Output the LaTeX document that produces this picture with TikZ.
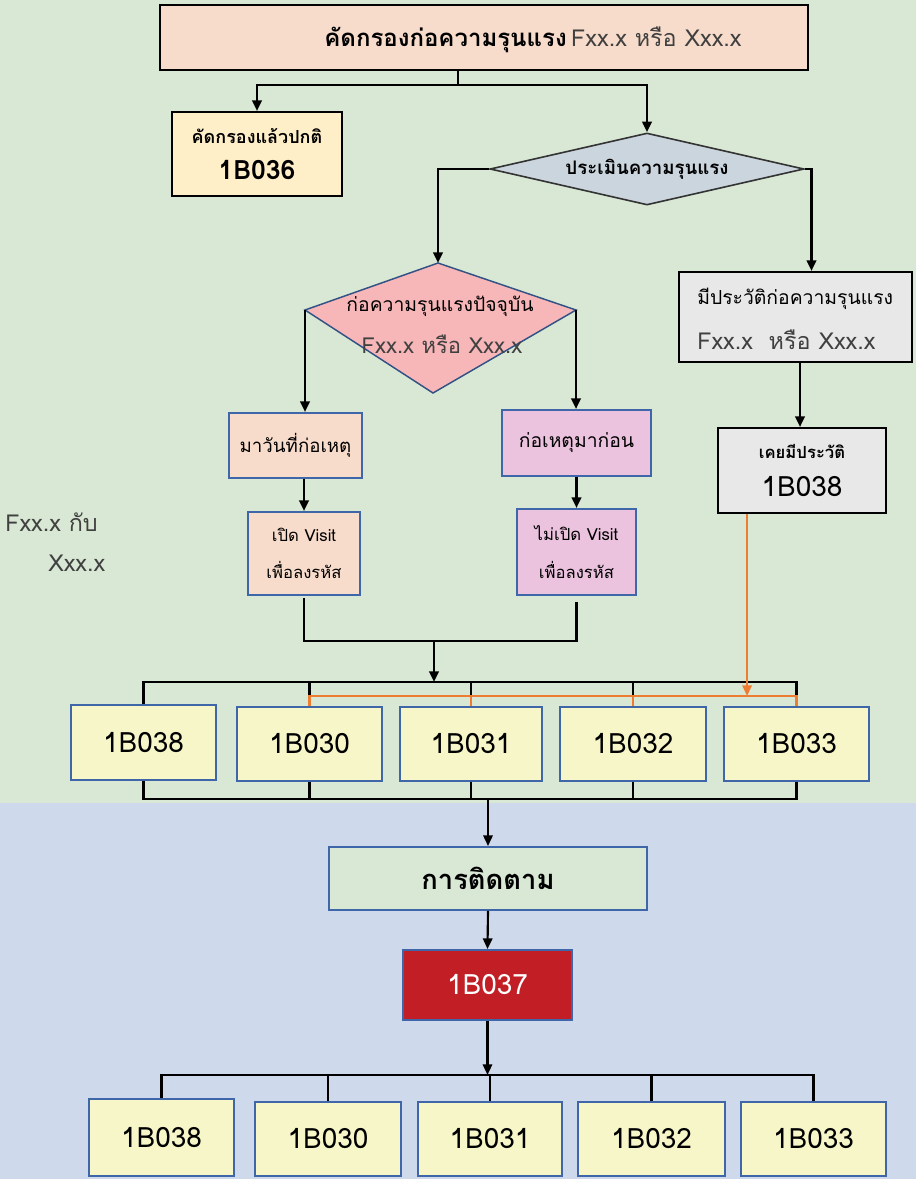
\documentclass[tikz,border=0pt]{standalone}
\usepackage{fontspec}
\setmainfont[Script=Thai]{Loma}
\usetikzlibrary{arrows.meta,shapes.geometric,calc}
\definecolor{bggreen}{HTML}{D9E8D4}
\definecolor{bgblue}{HTML}{CEDAEC}
\definecolor{peach}{HTML}{F8DCCB}
\definecolor{cream}{HTML}{FFEFC9}
\definecolor{slate}{HTML}{CBD5DE}
\definecolor{lgray}{HTML}{E7E8E7}
\definecolor{pinkd}{HTML}{F7B6B8}
\definecolor{mauve}{HTML}{EBC3DE}
\definecolor{lyellow}{HTML}{F7F6C8}
\definecolor{lgreen}{HTML}{D9E8D5}
\definecolor{dred}{HTML}{C11F25}
\definecolor{bord}{HTML}{3E66A8}
\definecolor{orng}{HTML}{ED7D31}
\definecolor{txtgray}{HTML}{404040}
\def\u{0.75pt}
\tikzset{
  bbox/.style={draw=black, line width=1.4pt, inner sep=0pt, align=center},
  ubox/.style={draw=bord, line width=1.4pt, inner sep=0pt, align=center},
  conn/.style={line width=2.1pt, black},
  arr/.style={conn, -{Triangle[length=8pt,width=7pt]}},
  thin/.style={line width=1.6pt, black},
  tarr/.style={thin, -{Triangle[length=8pt,width=7pt]}},
  oline/.style={line width=1.6pt, orng},
  oarr/.style={oline, -{Triangle[length=8pt,width=7pt]}},
  code/.style={font=\fontsize{21}{24}\selectfont},
}
\begin{document}
\begin{tikzpicture}[x=0.75pt,y=-0.75pt]
\useasboundingbox (0,0) rectangle (916,1179);
\fill[bggreen] (0,0) rectangle (916,803);
\fill[bgblue] (0,803) rectangle (916,1179);

% top
\node[bbox, fill=peach, minimum width=648*\u, minimum height=65*\u] (top) at (484,37.5) {};
\node (toptext) at (533,40) {{\bfseries\fontsize{18}{21}\selectfont คัดกรองก่อความรุนแรง} {\color{txtgray}\fontsize{17.5}{20}\selectfont Fxx.x หรือ Xxx.x}};

\node[bbox, fill=cream, minimum width=170*\u, minimum height=84*\u] (norm) at (257,154)
 {{\bfseries\fontsize{13.5}{16}\selectfont คัดกรองแล้วปกติ}\\[11pt]{\bfseries\fontsize{20}{24}\selectfont 1B036}};

\node[diamond, aspect=4.36, draw=black!80, line width=1.2pt, fill=slate, inner sep=0pt,
  minimum width=314*\u, minimum height=72*\u] (diag) at (647,169)
  {\bfseries\fontsize{14}{16}\selectfont ประเมินความรุนแรง};

% pink diamond
\coordinate (pdT) at (438,263);
\coordinate (pdR) at (576,310);
\coordinate (pdB) at (433,393);
\coordinate (pdL) at (305,310);
\draw[fill=pinkd, draw=bord!80!black, line width=1.1pt] (pdT) -- (pdR) -- (pdB) -- (pdL) -- cycle;
\node[font=\fontsize{14.5}{17}\selectfont] (pdt1) at (440,306) {ก่อความรุนแรงปัจจุบัน};
\node[font=\fontsize{16.5}{19}\selectfont, text=txtgray] (pdt2) at (442,344) {Fxx.x หรือ Xxx.x};

\node[bbox, fill=lgray, minimum width=233*\u, minimum height=90*\u] (hist) at (795.5,317) {};
\node[anchor=west, font=\fontsize{14.5}{17}\selectfont, inner sep=0pt] (histt1) at (697,299) {มีประวัติก่อความรุนแรง};
\node[anchor=west, font=\fontsize{17.5}{20}\selectfont, text=txtgray, inner sep=0pt] (histt2) at (697,340) {Fxx.x\ \ หรือ Xxx.x};

\node[bbox, fill=lgray, minimum width=168*\u, minimum height=85*\u] (hist2) at (802,470.5)
 {{\bfseries\fontsize{12.5}{14}\selectfont เคยมีประวัติ}\\[12pt]{\fontsize{21}{24}\selectfont 1B038}};

\node[ubox, fill=peach, minimum width=133*\u, minimum height=65*\u] (day) at (295.5,445.5)
 {\fontsize{14}{17}\selectfont มาวันที่ก่อเหตุ};
\node[ubox, fill=mauve, minimum width=149*\u, minimum height=66*\u] (before) at (576.5,443)
 {\fontsize{14.5}{17}\selectfont ก่อเหตุมาก่อน};

\node[ubox, fill=peach, minimum width=112*\u, minimum height=83*\u] (open) at (304,553.5)
 {{\fontsize{12.5}{15}\selectfont เปิด Visit}\\[14pt]{\fontsize{12.5}{15}\selectfont เพื่อลงรหัส}};
\node[ubox, fill=mauve, minimum width=119*\u, minimum height=86*\u] (noopen) at (576.5,552)
 {{\fontsize{12.5}{15}\selectfont ไม่เปิด Visit}\\[14pt]{\fontsize{12.5}{15}\selectfont เพื่อลงรหัส}};

\node[text=txtgray, font=\fontsize{17.5}{20}\selectfont, anchor=west, inner sep=0pt] (side1) at (5,522) {Fxx.x กับ};
\node[text=txtgray, font=\fontsize{17.5}{20}\selectfont, anchor=west, inner sep=0pt] (side2) at (48,563) {Xxx.x};

% row 1
\node[ubox, fill=lyellow, minimum width=145*\u, minimum height=75*\u, code] (r1) at (143.5,742.5) {1B038};
\node[ubox, fill=lyellow, minimum width=145*\u, minimum height=74*\u, code] (r2) at (309.5,744) {1B030};
\node[ubox, fill=lyellow, minimum width=142*\u, minimum height=74*\u, code] (r3) at (471,744) {1B031};
\node[ubox, fill=lyellow, minimum width=146*\u, minimum height=74*\u, code] (r4) at (633,744) {1B032};
\node[ubox, fill=lyellow, minimum width=145*\u, minimum height=74*\u, code] (r5) at (796.5,744) {1B033};

\node[ubox, fill=lgreen, minimum width=318*\u, minimum height=63*\u] (follow) at (488,878.5)
 {\bfseries\fontsize{20.5}{23}\selectfont การติดตาม};
\node[ubox, fill=dred, minimum width=169*\u, minimum height=70*\u, text=white, code] (red) at (487.5,985) {1B037};

% row 2
\node[ubox, fill=lyellow, minimum width=145*\u, minimum height=77*\u, code] (b1) at (161.5,1137.5) {1B038};
\node[ubox, fill=lyellow, minimum width=146*\u, minimum height=74*\u, code] (b2) at (328,1139) {1B030};
\node[ubox, fill=lyellow, minimum width=144*\u, minimum height=74*\u, code] (b3) at (490,1139) {1B031};
\node[ubox, fill=lyellow, minimum width=147*\u, minimum height=74*\u, code] (b4) at (651.5,1139) {1B032};
\node[ubox, fill=lyellow, minimum width=145*\u, minimum height=74*\u, code] (b5) at (813.5,1139) {1B033};

% connectors top
\draw[conn] ([xshift=-26*\u]top.south) -- ++(0,14) coordinate (tj);
\draw[arr] (tj) -| (norm.north);
\draw[arr] (tj) -| (diag.north);
\draw[arr] (diag.west) -| (pdT);
\draw[arr] (diag.east) -| ([xshift=16*\u]hist.north);
\draw[arr] (hist.south -| hist2.north) ++(-2,0) -- ([xshift=-2*\u]hist2.north);
\draw[arr] (pdL) -- (pdL |- day.north);
\draw[arr] (pdR) -- (pdR |- before.north);
\draw[arr] (day.south -| open.north) -- (open.north);
\draw[arr] (before.south -| noopen.north) -- (noopen.north);

% join
\coordinate (join) at (434,641);
\coordinate (bus1) at (434,682);
\coordinate (ob) at (434,696);
\coordinate (bus2) at (434,799);
\draw[conn] ([yshift=-2*\u]open.south) |- (noopen.south |- join) -- ([yshift=-6*\u]noopen.south);
\draw[arr] (join) -- (bus1);
\draw[conn] (r1.north) -- (r1.north |- bus1) -- (r5.north |- bus1) -- (r5.north);
\foreach \n in {r2,r3,r4} \draw[conn] (\n.north |- bus1) -- (\n.north);
% orange
\draw[oline] (r2.north) -- (r2.north |- ob) -- (r5.north |- ob) -- (r5.north);
\foreach \n in {r3,r4} \draw[oline] (\n.north |- ob) -- (\n.north);
\draw[oarr] ([xshift=30*\u]hist2.south west) -- ([xshift=30*\u]hist2.south west |- ob);

% bottom bus
\draw[conn] (r1.south) -- (r1.south |- bus2) -- (r5.south |- bus2) -- (r5.south);
\foreach \n in {r2,r3,r4} \draw[conn] (\n.south) -- (\n.south |- bus2);
\draw[tarr] (follow.north |- bus2) -- (follow.north);
\draw[tarr] (follow.south) -- (red.north);
\coordinate (bus3) at (488,1075);
\draw[tarr] (red.south) -- (red.south |- bus3);
\draw[conn] (b1.north) -- (b1.north |- bus3) -- (b5.north |- bus3) -- (b5.north);
\foreach \n in {b2,b3,b4} \draw[thin] (\n.north |- bus3) -- (\n.north);
\end{tikzpicture}
\end{document}
